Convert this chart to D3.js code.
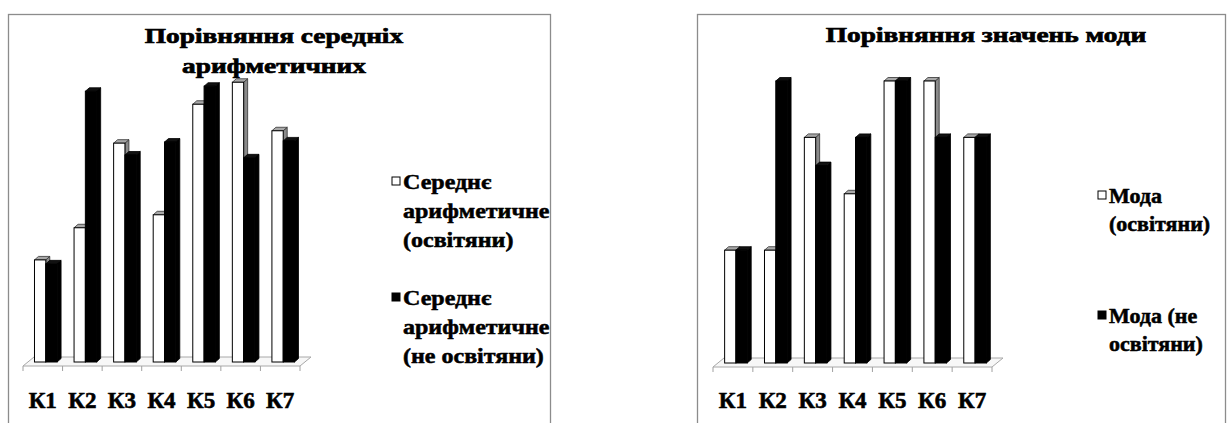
<!DOCTYPE html>
<html>
<head>
<meta charset="utf-8">
<script src="https://cdn.jsdelivr.net/npm/d3@7"></script>
<style>
  body { margin: 0; background: #fff; }
</style>
</head>
<body>
<div id="chart"></div>
<script>
// categories shared by both charts
const categories = ["К1", "К2", "К3", "К4", "К5", "К6", "К7"];

// left chart: arithmetic means
const meanTeachers = [1.81, 2.38, 3.88, 2.61, 4.57, 4.96, 4.10];
const meanOthers = [1.74, 4.80, 3.67, 3.90, 4.89, 3.62, 3.92];

// right chart: modes
const modeTeachers = [2, 2, 4, 3, 5, 5, 4];
const modeOthers = [2, 5, 3.5, 4, 5, 4, 4];

const meanTitle = ["Порівняння середніх", "арифметичних"];
const modeTitle = ["Порівняння значень моди"];
const meanLegend = [["Середнє", "арифметичне", "(освітяни)"], ["Середнє", "арифметичне", "(не освітяни)"]];
const modeLegend = [["Мода", "(освітяни)"], ["Мода (не", "освітяни)"]];

const W = 1227, H = 423;
const FONT = "'Liberation Serif', 'Times New Roman', serif";

const svg = d3.select('#chart').append('svg')
    .attr('width', W)
    .attr('height', H)
    .attr('viewBox', `0 0 ${W} ${H}`)
    .attr('font-family', FONT)
    .attr('font-weight', 'bold');

function stretch(sel, k) {
    sel.each(function() {
        const len = this.getComputedTextLength();
        d3.select(this).attr('textLength', len * k).attr('lengthAdjust', 'spacingAndGlyphs');
    });
}

function drawChart(o) {
    const g = svg.append('g');

    // frame
    g.append('rect')
        .attr('x', o.frame[0] + 0.5).attr('y', 14.5)
        .attr('width', o.frame[1] - o.frame[0]).attr('height', 440)
        .attr('fill', 'none').attr('stroke', '#8c8c8c').attr('stroke-width', 1.3);

    const xScale = d3.scaleBand()
        .domain(categories)
        .range([o.floorX0, o.floorX1]);

    const series = ['teachers', 'others'];
    const xSub = d3.scaleBand()
        .domain(series)
        .range([0, 22.6])
        .padding(0);

    const yScale = d3.scaleLinear()
        .domain([0, 5])
        .range([o.base, o.base - 282]);

    // floor plane
    const fy = o.base + 4, dxF = 11, dyF = -9;
    g.append('polygon')
        .attr('points', [[o.floorX0, fy], [o.floorX1, fy], [o.floorX1 + dxF, fy + dyF], [o.floorX0 + dxF, fy + dyF]].map(p => p.join(',')).join(' '))
        .attr('fill', '#f7f7f7').attr('stroke', '#a8a8a8').attr('stroke-width', 1);

    // ticks under floor
    const tickX = categories.map(c => xScale(c)).concat([o.floorX1]);
    g.selectAll('.tick').data(tickX).enter().append('line')
        .attr('x1', d => d).attr('x2', d => d)
        .attr('y1', fy).attr('y2', fy + 5)
        .attr('stroke', '#a0a0a0');

    // bars
    const ox = 3;              // bar row position on the floor
    const ddx = 4, ddy = -3.5; // bar depth
    const rows = [];
    categories.forEach((c, i) => {
        rows.push({ c, s: 'teachers', v: o.a[i] });
        rows.push({ c, s: 'others', v: o.b[i] });
    });
    const bw = xSub.bandwidth();
    const bars = g.selectAll('.bar').data(rows).enter().append('g').attr('class', 'bar');
    bars.each(function(d) {
        const el = d3.select(this);
        const x = xScale(d.c) + (xScale.bandwidth() - 22.6) / 2 + xSub(d.s) + ox;
        const y = yScale(d.v);
        const b = yScale(0);
        const white = d.s === 'teachers';
        el.append('polygon')
            .attr('points', [[x + bw, y], [x + bw + ddx, y + ddy], [x + bw + ddx, b + ddy], [x + bw, b]].map(p => p.join(',')).join(' '))
            .attr('fill', white ? '#8a8a8a' : '#000').attr('stroke', white ? '#333' : '#000').attr('stroke-width', 0.8);
        el.append('polygon')
            .attr('points', [[x, y], [x + bw, y], [x + bw + ddx, y + ddy], [x + ddx, y + ddy]].map(p => p.join(',')).join(' '))
            .attr('fill', white ? '#a8a8a8' : '#111').attr('stroke', white ? '#333' : '#000').attr('stroke-width', 0.8);
        el.append('rect')
            .attr('x', x).attr('y', y)
            .attr('width', bw).attr('height', b - y)
            .attr('fill', white ? '#fff' : '#000')
            .attr('stroke', '#000').attr('stroke-width', 1);
    });

    // category labels
    g.selectAll('.lab').data(categories).enter().append('text')
        .attr('x', d => xScale(d) + xScale.bandwidth() / 2)
        .attr('y', 408)
        .attr('text-anchor', 'middle')
        .attr('font-size', 23)
        .attr('stroke', '#000').attr('stroke-width', 0.6)
        .text(d => d);

    // title
    g.selectAll('.title').data(o.title).enter().append('text')
        .attr('x', o.titleX)
        .attr('y', (d, i) => o.titleY + i * 30)
        .attr('text-anchor', 'middle')
        .attr('font-size', 21)
        .attr('stroke', '#000').attr('stroke-width', 0.7)
        .text(d => d)
        .call(stretch, o.titleK);

    // legend
    o.legend.forEach((lines, k) => {
        const y0 = o.legendY[k];
        g.append('rect')
            .attr('x', o.legendX).attr('y', y0 - 12)
            .attr('width', 8).attr('height', 8)
            .attr('fill', k === 0 ? '#fff' : '#000')
            .attr('stroke', '#000').attr('stroke-width', 1);
        g.selectAll(null).data(lines).enter().append('text')
            .attr('x', o.legendX + 11)
            .attr('y', (d, i) => y0 + i * o.legendGap)
            .attr('font-size', 20)
            .attr('stroke', '#000').attr('stroke-width', 0.5)
            .text(d => d)
            .call(stretch, o.legendK);
    });
}

drawChart({
    frame: [8, 550],
    floorX0: 23, floorX1: 300, base: 362,
    a: meanTeachers, b: meanOthers,
    title: meanTitle, titleX: 274, titleY: 43, titleK: 1.3,
    legend: meanLegend, legendX: 392, legendY: [189, 305], legendGap: 29, legendK: 1.2
});

drawChart({
    frame: [697, 1225],
    floorX0: 713, floorX1: 992, base: 363,
    a: modeTeachers, b: modeOthers,
    title: modeTitle, titleX: 986, titleY: 42, titleK: 1.3,
    legend: modeLegend, legendX: 1098, legendY: [203, 323], legendGap: 28, legendK: 1.1
});
</script>
</body>
</html>
